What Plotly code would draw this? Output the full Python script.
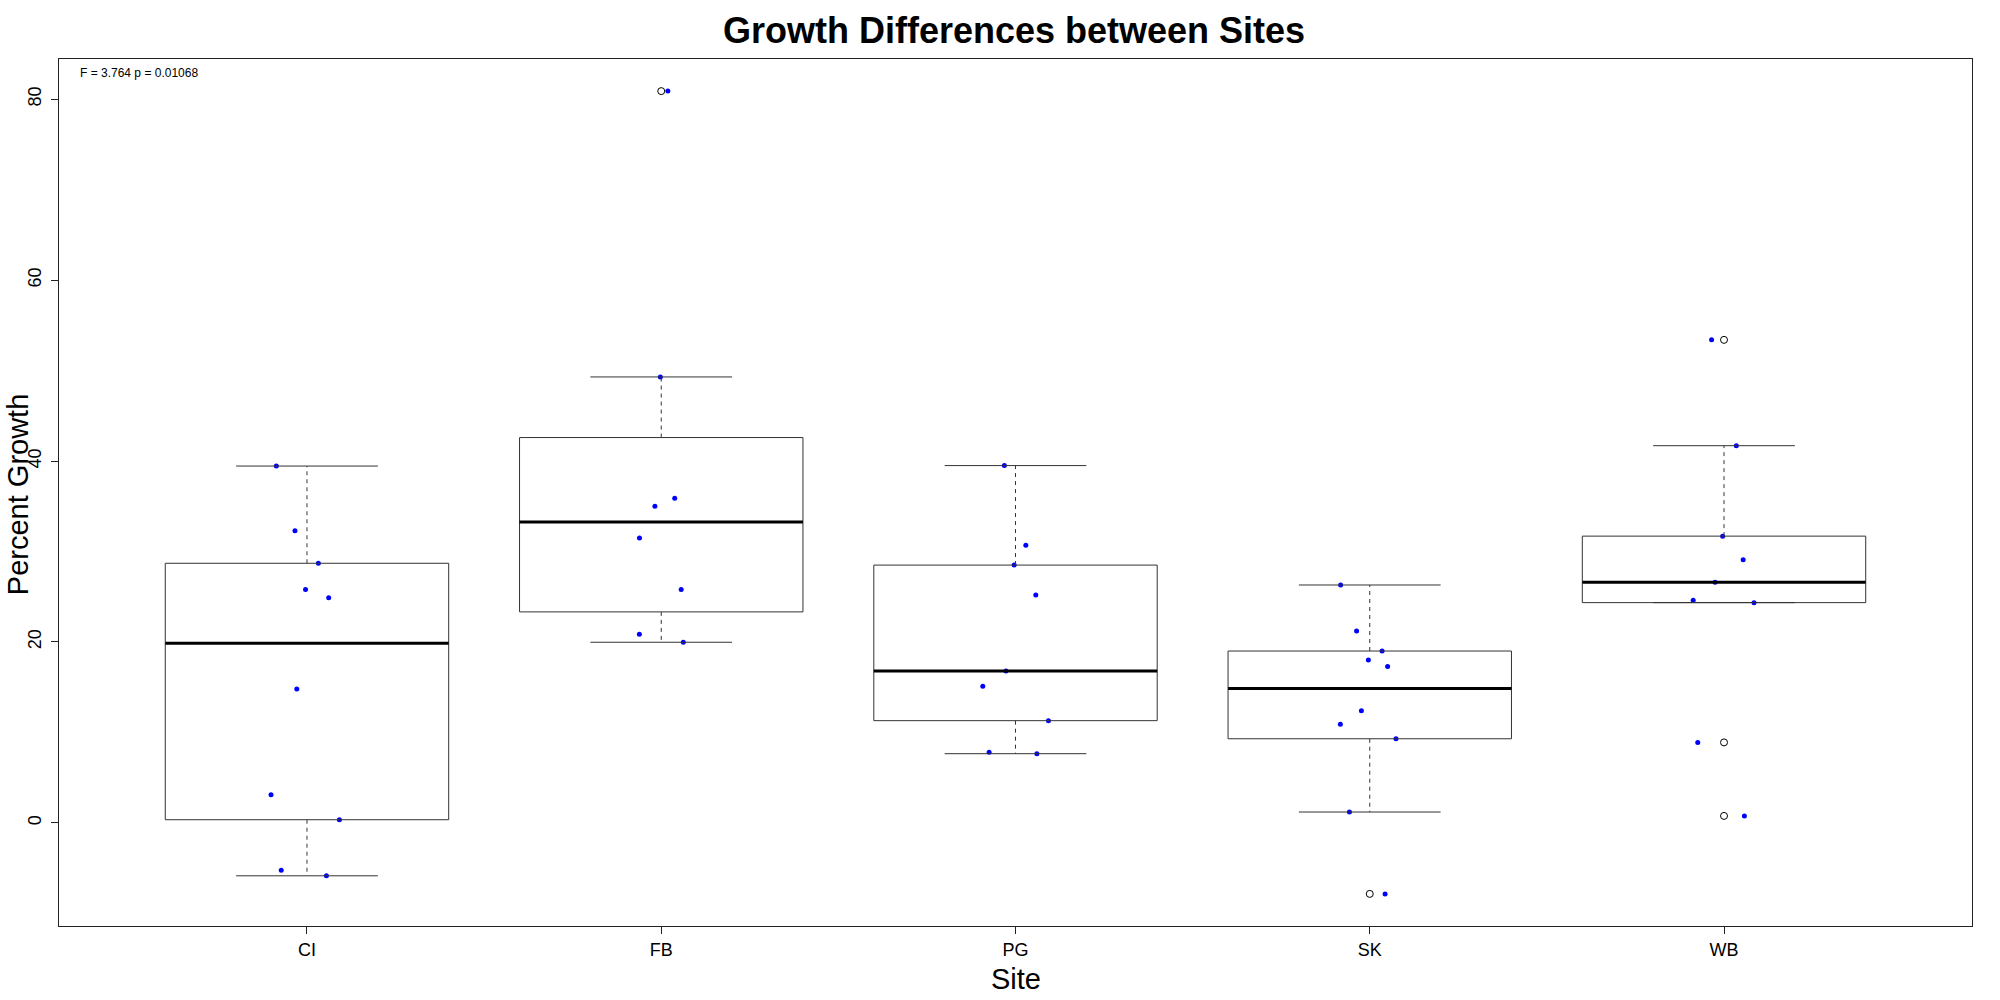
import numpy as np
import plotly.graph_objects as go

# ---- data ----
sites = ["CI", "FB", "PG", "SK", "WB"]
ci = [39.45, 32.3, 28.7, 25.8, 24.9, 14.8, 3.1, 0.35, -5.25, -5.85]
fb = [80.9, 49.3, 35.9, 35.0, 31.5, 25.8, 20.85, 19.97]
pg = [39.5, 30.7, 28.5, 25.2, 16.8, 15.1, 11.3, 7.8, 7.65]
sk = [26.3, 21.2, 19.0, 18.0, 17.3, 12.4, 10.9, 9.3, 1.2, -7.85]
wb = [53.4, 41.7, 31.7, 29.1, 26.6, 24.6, 24.35, 8.9, 0.77]
y_ticks = [0, 20, 40, 60, 80]
title_text = "Growth Differences between Sites"
x_title = "Site"
y_title = "Percent Growth"
stat_text = "F = 3.764 p = 0.01068"

groups = [ci, fb, pg, sk, wb]
FONT = "Liberation Sans, Arial, Helvetica, sans-serif"


def fivenum(v):
    x = np.sort(np.asarray(v, float))
    n = len(x)
    n4 = np.floor((n + 3) / 2) / 2
    d = np.array([1, n4, (n + 1) / 2, n + 1 - n4, n]) - 1
    return 0.5 * (x[np.floor(d).astype(int)] + x[np.ceil(d).astype(int)])


def box_stats(v, coef=1.5):
    x = np.asarray(v, float)
    s = fivenum(x)
    iqr = s[3] - s[1]
    out = (x < s[1] - coef * iqr) | (x > s[3] + coef * iqr)
    inside = x[~out]
    s[0], s[4] = inside.min(), inside.max()
    return s, x[out]


half_box = 0.4
half_cap = 0.2

box_x, box_y = [], []
med_x, med_y = [], []
wh_x, wh_y = [], []
cap_x, cap_y = [], []
out_x, out_y = [], []

for i, g in enumerate(groups):
    pos = i + 1
    s, out = box_stats(g)
    lw, q1, md, q3, uw = s
    box_x += [pos - half_box, pos + half_box, pos + half_box, pos - half_box, pos - half_box, None]
    box_y += [q1, q1, q3, q3, q1, None]
    med_x += [pos - half_box, pos + half_box, None]
    med_y += [md, md, None]
    wh_x += [pos, pos, None, pos, pos, None]
    wh_y += [q3, uw, None, q1, lw, None]
    cap_x += [pos - half_cap, pos + half_cap, None, pos - half_cap, pos + half_cap, None]
    cap_y += [uw, uw, None, lw, lw, None]
    out_x += [pos] * len(out)
    out_y += list(out)

fig = go.Figure()
fig.add_trace(go.Scatter(x=wh_x, y=wh_y, mode="lines",
                         line=dict(color="#333333", width=1, dash="4px,4px"), hoverinfo="skip"))
fig.add_trace(go.Scatter(x=cap_x, y=cap_y, mode="lines",
                         line=dict(color="#333333", width=1), hoverinfo="skip"))
fig.add_trace(go.Scatter(x=box_x, y=box_y, mode="lines",
                         line=dict(color="#333333", width=1), hoverinfo="skip"))
fig.add_trace(go.Scatter(x=med_x, y=med_y, mode="lines",
                         line=dict(color="black", width=3), hoverinfo="skip"))
fig.add_trace(go.Scatter(x=out_x, y=out_y, mode="markers",
                         marker=dict(symbol="circle-open", size=7, color="black",
                                     line=dict(width=1, color="black"))))

for i, g in enumerate(groups):
    fig.add_trace(go.Box(x=[i + 1] * len(g), y=g, name=sites[i], boxpoints="all",
                         jitter=0.3, pointpos=0, width=0.8,
                         line=dict(width=0, color="rgba(0,0,0,0)"),
                         fillcolor="rgba(0,0,0,0)",
                         marker=dict(color="blue", size=5)))

n = len(groups)
xr = [0.5 - 0.04 * n, n + 0.5 + 0.04 * n]
allv = np.concatenate([np.asarray(g, float) for g in groups])
ymin, ymax = allv.min(), allv.max()
ext = 0.04 * (ymax - ymin)
yr = [ymin - ext, ymax + ext]

axis_common = dict(showline=True, mirror=True, linecolor="#222222", linewidth=1,
                   showgrid=False, zeroline=False, ticks="outside", ticklen=7,
                   tickcolor="#222222", tickfont=dict(family=FONT, size=18, color="black"))

fig.update_layout(
    width=2000, height=1000,
    margin=dict(l=59, r=28, t=59, b=74),
    plot_bgcolor="white", paper_bgcolor="white",
    showlegend=False,
    boxmode="overlay",
    title=dict(text="<b>" + title_text + "</b>", x=0.507, xanchor="center",
               y=0.970, yanchor="middle",
               font=dict(family=FONT, size=36, color="black")),
    xaxis=dict(range=xr, tickvals=list(range(1, n + 1)), ticktext=sites, **axis_common),
    yaxis=dict(range=yr, tickvals=y_ticks, tickangle=-90, ticklabelstandoff=3, **axis_common),
    annotations=[
        dict(text=y_title, xref="paper", yref="paper", x=-0.0214, y=0.497,
             textangle=-90, showarrow=False, xanchor="center", yanchor="middle",
             font=dict(family=FONT, size=29, color="black")),
        dict(text=x_title, xref="paper", yref="paper", x=0.5, y=-0.0617,
             showarrow=False, xanchor="center", yanchor="middle",
             font=dict(family=FONT, size=29, color="black")),
        dict(text=stat_text, xref="paper", yref="paper", x=0.0099, y=0.9839,
             showarrow=False, xanchor="left", yanchor="middle",
             font=dict(family=FONT, size=12, color="black")),
    ],
)

fig.write_html("out.html", config={"displayModeBar": False},
               post_script="document.body.style.margin='0px';")
